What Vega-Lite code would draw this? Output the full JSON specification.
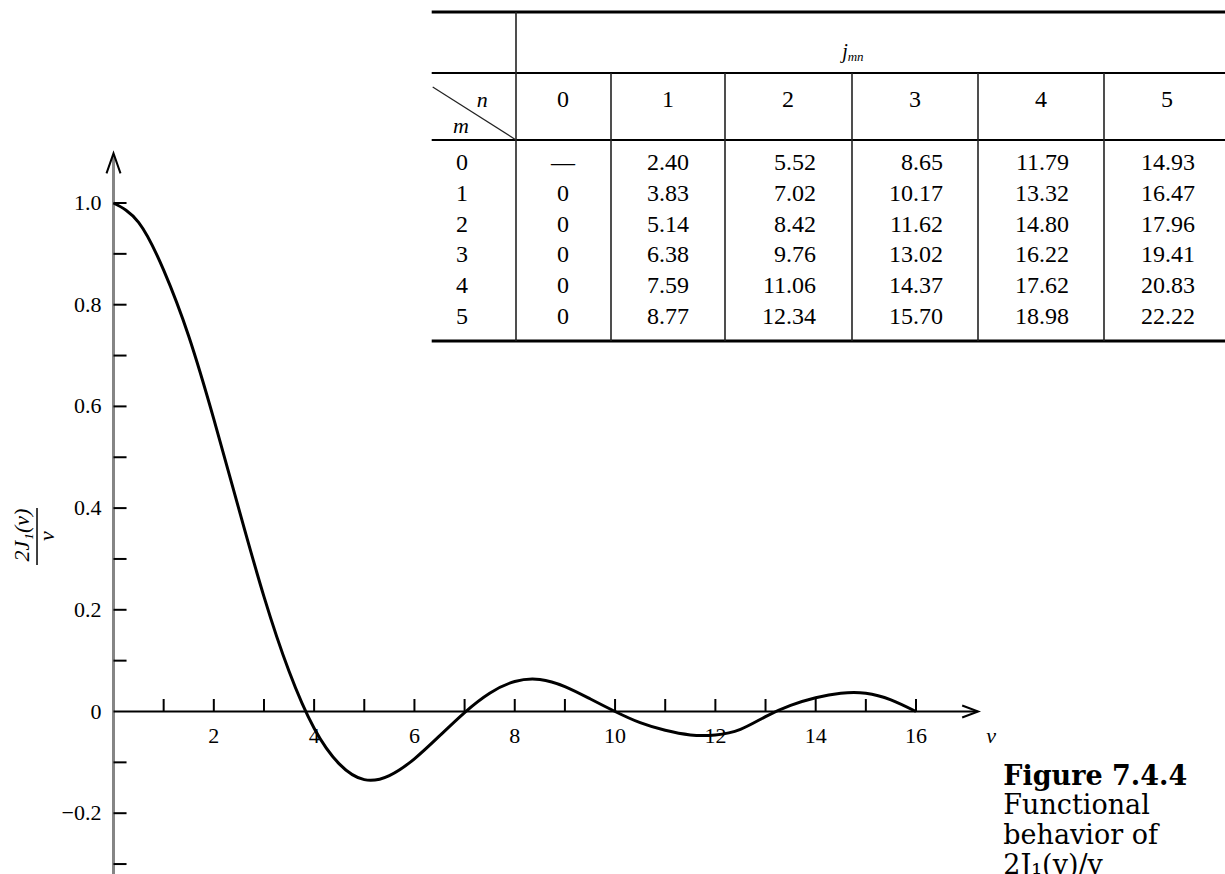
{
  "$schema": "https://vega.github.io/schema/vega-lite/v6.json",
  "width": 1225,
  "height": 874,
  "autosize": {"type": "none"},
  "padding": 0,
  "background": "white",
  "config": {"view": {"stroke": null}, "text": {"font": "Liberation Serif", "color": "black"}},
  "data": {"name": "one"},
  "datasets": {
    "one": [{"k": 1}],
    "curve": [
      {"v": 0, "f": 1.0}, {"v": 0.5, "f": 0.962}, {"v": 1.0, "f": 0.868}, {"v": 1.5, "f": 0.738},
      {"v": 2.0, "f": 0.575}, {"v": 2.5, "f": 0.398}, {"v": 3.0, "f": 0.226}, {"v": 3.5, "f": 0.079},
      {"v": 4.0, "f": -0.033}, {"v": 4.5, "f": -0.103}, {"v": 5.0, "f": -0.134}, {"v": 5.5, "f": -0.126},
      {"v": 6.0, "f": -0.093}, {"v": 6.5, "f": -0.048}, {"v": 7.0, "f": -0.002}, {"v": 7.5, "f": 0.036},
      {"v": 8.0, "f": 0.059}, {"v": 8.5, "f": 0.063}, {"v": 9.0, "f": 0.049}, {"v": 9.5, "f": 0.025},
      {"v": 10.0, "f": 0.0}, {"v": 10.5, "f": -0.022}, {"v": 11.0, "f": -0.037}, {"v": 11.5, "f": -0.046},
      {"v": 12.0, "f": -0.046}, {"v": 12.5, "f": -0.035}, {"v": 13.0, "f": -0.010}, {"v": 13.5, "f": 0.012},
      {"v": 14.0, "f": 0.027}, {"v": 14.5, "f": 0.036}, {"v": 15.0, "f": 0.036}, {"v": 15.5, "f": 0.023},
      {"v": 16.0, "f": 0.0}
    ],
    "yticks": [
      {"t": -0.3}, {"t": -0.2}, {"t": -0.1}, {"t": 0.1}, {"t": 0.2}, {"t": 0.3}, {"t": 0.4},
      {"t": 0.5}, {"t": 0.6}, {"t": 0.7}, {"t": 0.8}, {"t": 0.9}, {"t": 1.0}
    ],
    "ylabels": [
      {"t": 1.0, "label": "1.0"}, {"t": 0.8, "label": "0.8"}, {"t": 0.6, "label": "0.6"},
      {"t": 0.4, "label": "0.4"}, {"t": 0.2, "label": "0.2"}, {"t": 0, "label": "0"},
      {"t": -0.2, "label": "−0.2"}
    ],
    "xticks": [
      {"t": 1}, {"t": 2}, {"t": 3}, {"t": 4}, {"t": 5}, {"t": 6}, {"t": 7}, {"t": 8},
      {"t": 9}, {"t": 10}, {"t": 11}, {"t": 12}, {"t": 13}, {"t": 14}, {"t": 15}, {"t": 16}
    ],
    "xlabels": [
      {"t": 2, "label": "2"}, {"t": 4, "label": "4"}, {"t": 6, "label": "6"}, {"t": 8, "label": "8"},
      {"t": 10, "label": "10"}, {"t": 12, "label": "12"}, {"t": 14, "label": "14"}, {"t": 16, "label": "16"}
    ],
    "heads": [{"n": 0}, {"n": 1}, {"n": 2}, {"n": 3}, {"n": 4}, {"n": 5}],
    "rows": [{"m": 0}, {"m": 1}, {"m": 2}, {"m": 3}, {"m": 4}, {"m": 5}],
    "cells": [
      {"m": 0, "n": 0, "value": "—"}, {"m": 0, "n": 1, "value": "2.40"}, {"m": 0, "n": 2, "value": "5.52"},
      {"m": 0, "n": 3, "value": "8.65"}, {"m": 0, "n": 4, "value": "11.79"}, {"m": 0, "n": 5, "value": "14.93"},
      {"m": 1, "n": 0, "value": "0"}, {"m": 1, "n": 1, "value": "3.83"}, {"m": 1, "n": 2, "value": "7.02"},
      {"m": 1, "n": 3, "value": "10.17"}, {"m": 1, "n": 4, "value": "13.32"}, {"m": 1, "n": 5, "value": "16.47"},
      {"m": 2, "n": 0, "value": "0"}, {"m": 2, "n": 1, "value": "5.14"}, {"m": 2, "n": 2, "value": "8.42"},
      {"m": 2, "n": 3, "value": "11.62"}, {"m": 2, "n": 4, "value": "14.80"}, {"m": 2, "n": 5, "value": "17.96"},
      {"m": 3, "n": 0, "value": "0"}, {"m": 3, "n": 1, "value": "6.38"}, {"m": 3, "n": 2, "value": "9.76"},
      {"m": 3, "n": 3, "value": "13.02"}, {"m": 3, "n": 4, "value": "16.22"}, {"m": 3, "n": 5, "value": "19.41"},
      {"m": 4, "n": 0, "value": "0"}, {"m": 4, "n": 1, "value": "7.59"}, {"m": 4, "n": 2, "value": "11.06"},
      {"m": 4, "n": 3, "value": "14.37"}, {"m": 4, "n": 4, "value": "17.62"}, {"m": 4, "n": 5, "value": "20.83"},
      {"m": 5, "n": 0, "value": "0"}, {"m": 5, "n": 1, "value": "8.77"}, {"m": 5, "n": 2, "value": "12.34"},
      {"m": 5, "n": 3, "value": "15.70"}, {"m": 5, "n": 4, "value": "18.98"}, {"m": 5, "n": 5, "value": "22.22"}
    ]
  },
  "layer": [
    {
      "layer": [
        {
          "mark": {"type": "rule", "stroke": "#858585", "strokeWidth": 3},
          "encoding": {
            "x": {"datum": 0, "type": "quantitative", "scale": {"type": "linear", "domain": [0, 16], "range": [113.5, 916], "nice": false, "zero": false}, "axis": null},
            "y": {"datum": -0.4, "type": "quantitative", "scale": {"type": "linear", "domain": [0, 1], "range": [711.5, 203], "nice": false, "zero": false}, "axis": null},
            "y2": {"datum": 1.095}
          }
        },
        {
          "mark": {"type": "point", "shape": "M -0.7 1 L 0 -1 L 0.7 1", "filled": false, "size": 400, "color": "black", "strokeWidth": 2, "opacity": 1},
          "encoding": {
            "x": {"datum": 0, "type": "quantitative", "scale": {"type": "linear", "domain": [0, 16], "range": [113.5, 916], "nice": false, "zero": false}, "axis": null},
            "y": {"datum": 1.078, "type": "quantitative", "scale": {"type": "linear", "domain": [0, 1], "range": [711.5, 203], "nice": false, "zero": false}, "axis": null}
          }
        },
        {
          "mark": {"type": "rule", "stroke": "black", "strokeWidth": 2},
          "encoding": {
            "x": {"datum": 0, "type": "quantitative", "scale": {"type": "linear", "domain": [0, 16], "range": [113.5, 916], "nice": false, "zero": false}, "axis": null},
            "x2": {"datum": 17.22},
            "y": {"datum": 0, "type": "quantitative", "scale": {"type": "linear", "domain": [0, 1], "range": [711.5, 203], "nice": false, "zero": false}, "axis": null}
          }
        },
        {
          "mark": {"type": "point", "shape": "M -1 -0.75 L 1 0 L -1 0.75", "filled": false, "size": 256, "color": "black", "strokeWidth": 2, "opacity": 1},
          "encoding": {
            "x": {"datum": 17.08, "type": "quantitative", "scale": {"type": "linear", "domain": [0, 16], "range": [113.5, 916], "nice": false, "zero": false}, "axis": null},
            "y": {"datum": 0, "type": "quantitative", "scale": {"type": "linear", "domain": [0, 1], "range": [711.5, 203], "nice": false, "zero": false}, "axis": null}
          }
        },
        {
          "data": {"name": "yticks"},
          "mark": {"type": "rule", "stroke": "black", "strokeWidth": 2},
          "encoding": {
            "x": {"datum": 0, "type": "quantitative", "scale": {"type": "linear", "domain": [0, 16], "range": [113.5, 916], "nice": false, "zero": false}, "axis": null},
            "x2": {"datum": 0.26},
            "y": {"field": "t", "type": "quantitative", "scale": {"type": "linear", "domain": [0, 1], "range": [711.5, 203], "nice": false, "zero": false}, "axis": null}
          }
        },
        {
          "data": {"name": "xticks"},
          "mark": {"type": "rule", "stroke": "black", "strokeWidth": 2},
          "encoding": {
            "x": {"field": "t", "type": "quantitative", "scale": {"type": "linear", "domain": [0, 16], "range": [113.5, 916], "nice": false, "zero": false}, "axis": null},
            "y": {"datum": 0, "type": "quantitative", "scale": {"type": "linear", "domain": [0, 1], "range": [711.5, 203], "nice": false, "zero": false}, "axis": null},
            "y2": {"datum": 0.0246}
          }
        },
        {
          "data": {"name": "ylabels"},
          "mark": {"type": "text", "align": "right", "baseline": "middle", "dx": -12, "fontSize": 22},
          "encoding": {
            "x": {"datum": 0, "type": "quantitative", "scale": {"type": "linear", "domain": [0, 16], "range": [113.5, 916], "nice": false, "zero": false}, "axis": null},
            "y": {"field": "t", "type": "quantitative", "scale": {"type": "linear", "domain": [0, 1], "range": [711.5, 203], "nice": false, "zero": false}, "axis": null},
            "text": {"field": "label"}
          }
        },
        {
          "data": {"name": "xlabels"},
          "mark": {"type": "text", "align": "center", "baseline": "middle", "dy": 24, "fontSize": 22},
          "encoding": {
            "x": {"field": "t", "type": "quantitative", "scale": {"type": "linear", "domain": [0, 16], "range": [113.5, 916], "nice": false, "zero": false}, "axis": null},
            "y": {"datum": 0, "type": "quantitative", "scale": {"type": "linear", "domain": [0, 1], "range": [711.5, 203], "nice": false, "zero": false}, "axis": null},
            "text": {"field": "label"}
          }
        },
        {
          "data": {"name": "curve"},
          "mark": {"type": "line", "stroke": "black", "strokeWidth": 3, "interpolate": "natural"},
          "encoding": {
            "x": {"field": "v", "type": "quantitative", "scale": {"type": "linear", "domain": [0, 16], "range": [113.5, 916], "nice": false, "zero": false}, "axis": null},
            "y": {"field": "f", "type": "quantitative", "scale": {"type": "linear", "domain": [0, 1], "range": [711.5, 203], "nice": false, "zero": false}, "axis": null}
          }
        },
        {
          "mark": {"type": "text", "text": "v", "align": "center", "baseline": "middle", "dy": 24, "fontSize": 22, "fontStyle": "italic"},
          "encoding": {
            "x": {"datum": 17.5, "type": "quantitative", "scale": {"type": "linear", "domain": [0, 16], "range": [113.5, 916], "nice": false, "zero": false}, "axis": null},
            "y": {"datum": 0, "type": "quantitative", "scale": {"type": "linear", "domain": [0, 1], "range": [711.5, 203], "nice": false, "zero": false}, "axis": null}
          }
        },
        {
          "mark": {"type": "text", "text": "2J₁(v)", "align": "center", "baseline": "middle", "angle": 270, "fontSize": 22, "fontStyle": "italic"},
          "encoding": {
            "x": {"datum": -1.825, "type": "quantitative", "scale": {"type": "linear", "domain": [0, 16], "range": [113.5, 916], "nice": false, "zero": false}, "axis": null},
            "y": {"datum": 0.347, "type": "quantitative", "scale": {"type": "linear", "domain": [0, 1], "range": [711.5, 203], "nice": false, "zero": false}, "axis": null}
          }
        },
        {
          "mark": {"type": "rule", "stroke": "black", "strokeWidth": 1.5},
          "encoding": {
            "x": {"datum": -1.525, "type": "quantitative", "scale": {"type": "linear", "domain": [0, 16], "range": [113.5, 916], "nice": false, "zero": false}, "axis": null},
            "y": {"datum": 0.4, "type": "quantitative", "scale": {"type": "linear", "domain": [0, 1], "range": [711.5, 203], "nice": false, "zero": false}, "axis": null},
            "y2": {"datum": 0.288}
          }
        },
        {
          "mark": {"type": "text", "text": "v", "align": "center", "baseline": "middle", "angle": 270, "fontSize": 22, "fontStyle": "italic"},
          "encoding": {
            "x": {"datum": -1.33, "type": "quantitative", "scale": {"type": "linear", "domain": [0, 16], "range": [113.5, 916], "nice": false, "zero": false}, "axis": null},
            "y": {"datum": 0.345, "type": "quantitative", "scale": {"type": "linear", "domain": [0, 1], "range": [711.5, 203], "nice": false, "zero": false}, "axis": null}
          }
        },
        {
          "mark": {"type": "text", "text": "Figure 7.4.4", "align": "left", "baseline": "alphabetic", "font": "DejaVu Serif", "fontSize": 27, "fontWeight": "bold"},
          "encoding": {
            "x": {"datum": 17.74, "type": "quantitative", "scale": {"type": "linear", "domain": [0, 16], "range": [113.5, 916], "nice": false, "zero": false}, "axis": null},
            "y": {"datum": -0.1444, "type": "quantitative", "scale": {"type": "linear", "domain": [0, 1], "range": [711.5, 203], "nice": false, "zero": false}, "axis": null}
          }
        },
        {
          "mark": {"type": "text", "text": ["Functional", "behavior of", "2J₁(v)/v"], "align": "left", "baseline": "alphabetic", "font": "DejaVu Serif", "fontSize": 27, "lineHeight": 30},
          "encoding": {
            "x": {"datum": 17.74, "type": "quantitative", "scale": {"type": "linear", "domain": [0, 16], "range": [113.5, 916], "nice": false, "zero": false}, "axis": null},
            "y": {"datum": -0.2014, "type": "quantitative", "scale": {"type": "linear", "domain": [0, 1], "range": [711.5, 203], "nice": false, "zero": false}, "axis": null}
          }
        }
      ]
    },
    {
      "layer": [
        {
          "mark": {"type": "rule", "stroke": "black", "strokeWidth": 3},
          "encoding": {
            "x": {"datum": -1.3, "type": "quantitative", "scale": {"type": "linear", "domain": [-1, 0, 1, 2, 3, 4, 5], "range": [462, 563, 668, 788, 915, 1041, 1167], "nice": false, "zero": false}, "axis": null},
            "x2": {"datum": 5.7},
            "y": {"datum": -4.9, "type": "quantitative", "scale": {"type": "linear", "domain": [0, 5], "range": [163, 317], "nice": false, "zero": false}, "axis": null}
          }
        },
        {
          "mark": {"type": "rule", "stroke": "black", "strokeWidth": 2},
          "encoding": {
            "x": {"datum": -1.3, "type": "quantitative", "scale": {"type": "linear", "domain": [-1, 0, 1, 2, 3, 4, 5], "range": [462, 563, 668, 788, 915, 1041, 1167], "nice": false, "zero": false}, "axis": null},
            "x2": {"datum": 5.7},
            "y": {"datum": -2.92, "type": "quantitative", "scale": {"type": "linear", "domain": [0, 5], "range": [163, 317], "nice": false, "zero": false}, "axis": null}
          }
        },
        {
          "mark": {"type": "rule", "stroke": "black", "strokeWidth": 2},
          "encoding": {
            "x": {"datum": -1.3, "type": "quantitative", "scale": {"type": "linear", "domain": [-1, 0, 1, 2, 3, 4, 5], "range": [462, 563, 668, 788, 915, 1041, 1167], "nice": false, "zero": false}, "axis": null},
            "x2": {"datum": 5.7},
            "y": {"datum": -0.75, "type": "quantitative", "scale": {"type": "linear", "domain": [0, 5], "range": [163, 317], "nice": false, "zero": false}, "axis": null}
          }
        },
        {
          "mark": {"type": "rule", "stroke": "black", "strokeWidth": 3},
          "encoding": {
            "x": {"datum": -1.3, "type": "quantitative", "scale": {"type": "linear", "domain": [-1, 0, 1, 2, 3, 4, 5], "range": [462, 563, 668, 788, 915, 1041, 1167], "nice": false, "zero": false}, "axis": null},
            "x2": {"datum": 5.7},
            "y": {"datum": 5.78, "type": "quantitative", "scale": {"type": "linear", "domain": [0, 5], "range": [163, 317], "nice": false, "zero": false}, "axis": null}
          }
        },
        {
          "mark": {"type": "rule", "stroke": "#222", "strokeWidth": 1.2},
          "encoding": {
            "x": {"datum": -1.29, "type": "quantitative", "scale": {"type": "linear", "domain": [-1, 0, 1, 2, 3, 4, 5], "range": [462, 563, 668, 788, 915, 1041, 1167], "nice": false, "zero": false}, "axis": null},
            "x2": {"datum": -0.465},
            "y": {"datum": -2.47, "type": "quantitative", "scale": {"type": "linear", "domain": [0, 5], "range": [163, 317], "nice": false, "zero": false}, "axis": null},
            "y2": {"datum": -0.75}
          }
        },
        {
          "mark": {"type": "text", "text": "n", "align": "center", "baseline": "middle", "fontSize": 22, "fontStyle": "italic"},
          "encoding": {
            "x": {"datum": -0.8, "type": "quantitative", "scale": {"type": "linear", "domain": [-1, 0, 1, 2, 3, 4, 5], "range": [462, 563, 668, 788, 915, 1041, 1167], "nice": false, "zero": false}, "axis": null},
            "y": {"datum": -2.05, "type": "quantitative", "scale": {"type": "linear", "domain": [0, 5], "range": [163, 317], "nice": false, "zero": false}, "axis": null}
          }
        },
        {
          "mark": {"type": "text", "text": "m", "align": "center", "baseline": "middle", "fontSize": 22, "fontStyle": "italic"},
          "encoding": {
            "x": {"datum": -1.01, "type": "quantitative", "scale": {"type": "linear", "domain": [-1, 0, 1, 2, 3, 4, 5], "range": [462, 563, 668, 788, 915, 1041, 1167], "nice": false, "zero": false}, "axis": null},
            "y": {"datum": -1.2, "type": "quantitative", "scale": {"type": "linear", "domain": [0, 5], "range": [163, 317], "nice": false, "zero": false}, "axis": null}
          }
        },
        {
          "mark": {"type": "text", "text": "j", "align": "right", "baseline": "middle", "fontSize": 20, "fontStyle": "italic"},
          "encoding": {
            "x": {"datum": 2.47, "type": "quantitative", "scale": {"type": "linear", "domain": [-1, 0, 1, 2, 3, 4, 5], "range": [462, 563, 668, 788, 915, 1041, 1167], "nice": false, "zero": false}, "axis": null},
            "y": {"datum": -3.6, "type": "quantitative", "scale": {"type": "linear", "domain": [0, 5], "range": [163, 317], "nice": false, "zero": false}, "axis": null}
          }
        },
        {
          "mark": {"type": "text", "text": "mn", "align": "left", "baseline": "middle", "fontSize": 13, "fontStyle": "italic"},
          "encoding": {
            "x": {"datum": 2.47, "type": "quantitative", "scale": {"type": "linear", "domain": [-1, 0, 1, 2, 3, 4, 5], "range": [462, 563, 668, 788, 915, 1041, 1167], "nice": false, "zero": false}, "axis": null},
            "y": {"datum": -3.45, "type": "quantitative", "scale": {"type": "linear", "domain": [0, 5], "range": [163, 317], "nice": false, "zero": false}, "axis": null}
          }
        },
        {
          "data": {"name": "heads"},
          "mark": {"type": "text", "align": "center", "baseline": "middle", "fontSize": 24},
          "encoding": {
            "x": {"field": "n", "type": "quantitative", "scale": {"type": "linear", "domain": [-1, 0, 1, 2, 3, 4, 5], "range": [462, 563, 668, 788, 915, 1041, 1167], "nice": false, "zero": false}, "axis": null},
            "y": {"datum": -2.03, "type": "quantitative", "scale": {"type": "linear", "domain": [0, 5], "range": [163, 317], "nice": false, "zero": false}, "axis": null},
            "text": {"field": "n"}
          }
        },
        {
          "data": {"name": "rows"},
          "mark": {"type": "text", "align": "center", "baseline": "middle", "fontSize": 24},
          "encoding": {
            "x": {"datum": -1, "type": "quantitative", "scale": {"type": "linear", "domain": [-1, 0, 1, 2, 3, 4, 5], "range": [462, 563, 668, 788, 915, 1041, 1167], "nice": false, "zero": false}, "axis": null},
            "y": {"field": "m", "type": "quantitative", "scale": {"type": "linear", "domain": [0, 5], "range": [163, 317], "nice": false, "zero": false}, "axis": null},
            "text": {"field": "m"}
          }
        },
        {
          "data": {"name": "cells"},
          "transform": [{"filter": "datum.n <= 1"}],
          "mark": {"type": "text", "align": "center", "baseline": "middle", "fontSize": 24},
          "encoding": {
            "x": {"field": "n", "type": "quantitative", "scale": {"type": "linear", "domain": [-1, 0, 1, 2, 3, 4, 5], "range": [462, 563, 668, 788, 915, 1041, 1167], "nice": false, "zero": false}, "axis": null},
            "y": {"field": "m", "type": "quantitative", "scale": {"type": "linear", "domain": [0, 5], "range": [163, 317], "nice": false, "zero": false}, "axis": null},
            "text": {"field": "value"}
          }
        },
        {
          "data": {"name": "cells"},
          "transform": [{"filter": "datum.n >= 2"}],
          "mark": {"type": "text", "align": "right", "baseline": "middle", "dx": 28, "fontSize": 24},
          "encoding": {
            "x": {"field": "n", "type": "quantitative", "scale": {"type": "linear", "domain": [-1, 0, 1, 2, 3, 4, 5], "range": [462, 563, 668, 788, 915, 1041, 1167], "nice": false, "zero": false}, "axis": null},
            "y": {"field": "m", "type": "quantitative", "scale": {"type": "linear", "domain": [0, 5], "range": [163, 317], "nice": false, "zero": false}, "axis": null},
            "text": {"field": "value"}
          }
        }
      ]
    },
    {
      "data": {"name": "heads"},
      "layer": [
        {
          "transform": [{"filter": "datum.n == 0"}],
          "mark": {"type": "rule", "stroke": "#222", "strokeWidth": 1.6},
          "encoding": {
            "x": {"field": "n", "type": "quantitative", "scale": {"type": "linear", "domain": [0, 1, 2, 3, 4, 5], "range": [516, 611, 725, 852, 978, 1104], "nice": false, "zero": false}, "axis": null},
            "y": {"datum": -4.9, "type": "quantitative", "scale": {"type": "linear", "domain": [0, 5], "range": [163, 317], "nice": false, "zero": false}, "axis": null},
            "y2": {"datum": 5.78}
          }
        },
        {
          "transform": [{"filter": "datum.n >= 1"}],
          "mark": {"type": "rule", "stroke": "#222", "strokeWidth": 1.6},
          "encoding": {
            "x": {"field": "n", "type": "quantitative", "scale": {"type": "linear", "domain": [0, 1, 2, 3, 4, 5], "range": [516, 611, 725, 852, 978, 1104], "nice": false, "zero": false}, "axis": null},
            "y": {"datum": -2.92, "type": "quantitative", "scale": {"type": "linear", "domain": [0, 5], "range": [163, 317], "nice": false, "zero": false}, "axis": null},
            "y2": {"datum": 5.78}
          }
        }
      ]
    }
  ],
  "resolve": {"scale": {"x": "independent", "y": "independent"}}
}
